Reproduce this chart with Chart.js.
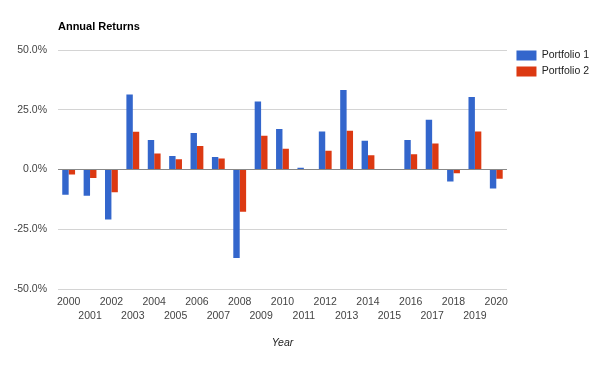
<!DOCTYPE html>
<html>
<head>
<meta charset="utf-8">
<script src="https://cdn.jsdelivr.net/npm/chart.js@4.4.1/dist/chart.umd.min.js"></script>
<style>
  html, body { margin: 0; padding: 0; background: #fff; }
  #wrap { width: 614px; height: 372px; position: relative; }
</style>
</head>
<body>
<div id="wrap"><canvas id="chart"></canvas></div>
<script>
// data (annual return, %)
const years = ['2000','2001','2002','2003','2004','2005','2006','2007','2008','2009','2010',
               '2011','2012','2013','2014','2015','2016','2017','2018','2019','2020'];
const portfolio1 = [-10.5, -10.9, -20.9, 31.4, 12.4, 5.7, 15.3, 5.3, -37.0, 28.5, 17.0,
                    0.8, 16.0, 33.3, 12.1, 0.0, 12.4, 20.9, -5.0, 30.4, -7.9];
const portfolio2 = [-2.0, -3.5, -9.5, 15.9, 6.7, 4.3, 9.9, 4.7, -17.7, 14.2, 8.7,
                    0.3, 7.9, 16.3, 6.0, 0.0, 6.4, 10.9, -1.5, 16.0, -3.8];
const yTicks = [-50, -25, 0, 25, 50];

const font = "'Liberation Sans', Arial, sans-serif";

// google-style legend sits a bit higher/further right than chart.js puts it
const legendNudge = {
    id: 'legendNudge',
    afterLayout(c) {
        const lg = c.legend;
        lg.top -= 5.5; lg.bottom -= 5.5;
        lg.left += 4; lg.right += 4;
    }
};

new Chart(document.getElementById('chart'), {
    type: 'bar',
    data: {
        labels: years,
        datasets: [
            { label: 'Portfolio 1', data: portfolio1, backgroundColor: '#3366cc' },
            { label: 'Portfolio 2', data: portfolio2, backgroundColor: '#dc3912' }
        ]
    },
    options: {
        responsive: true,
        maintainAspectRatio: false,
        animation: false,
        datasets: { bar: { categoryPercentage: 0.6, barPercentage: 1.0 } },
        layout: { padding: { top: 0, left: 2.7, right: 19, bottom: 22.4 } },
        plugins: {
            title: {
                display: true, text: 'Annual Returns', align: 'start', fullSize: false,
                color: '#000', font: { family: font, size: 11, weight: 'bold' },
                padding: { top: 20, bottom: 17 }
            },
            legend: {
                position: 'right', align: 'start', fullSize: false,
                labels: { boxWidth: 20, boxHeight: 10, padding: 5.5, color: '#222', font: { family: font, size: 10.5 } }
            },
            tooltip: { enabled: false }
        },
        scales: {
            x: {
                grid: { display: false, drawTicks: false },
                border: { display: false },
                ticks: {
                    autoSkip: false, maxRotation: 0, padding: 6, color: '#444',
                    font: { family: font, size: 10.5, lineHeight: '14px' },
                    // stagger the year labels on two rows
                    callback: (v, i) => i % 2 ? ['', years[i]] : years[i]
                },
                title: {
                    display: true, text: 'Year', color: '#222',
                    font: { family: font, size: 10.5, style: 'italic' },
                    padding: { top: 8, bottom: 0 }
                }
            },
            y: {
                min: -50, max: 50,
                afterBuildTicks: s => { s.ticks = yTicks.map(v => ({ value: v })); },
                grid: {
                    drawTicks: false,
                    color: c => c.tick && c.tick.value === 0 ? '#888' : '#d4d4d4'
                },
                border: { display: false },
                ticks: {
                    padding: 11, color: '#444',
                    font: { family: font, size: 10.5 },
                    callback: v => v.toFixed(1) + '%'
                }
            }
        }
    },
    plugins: [legendNudge]
});
</script>
</body>
</html>
